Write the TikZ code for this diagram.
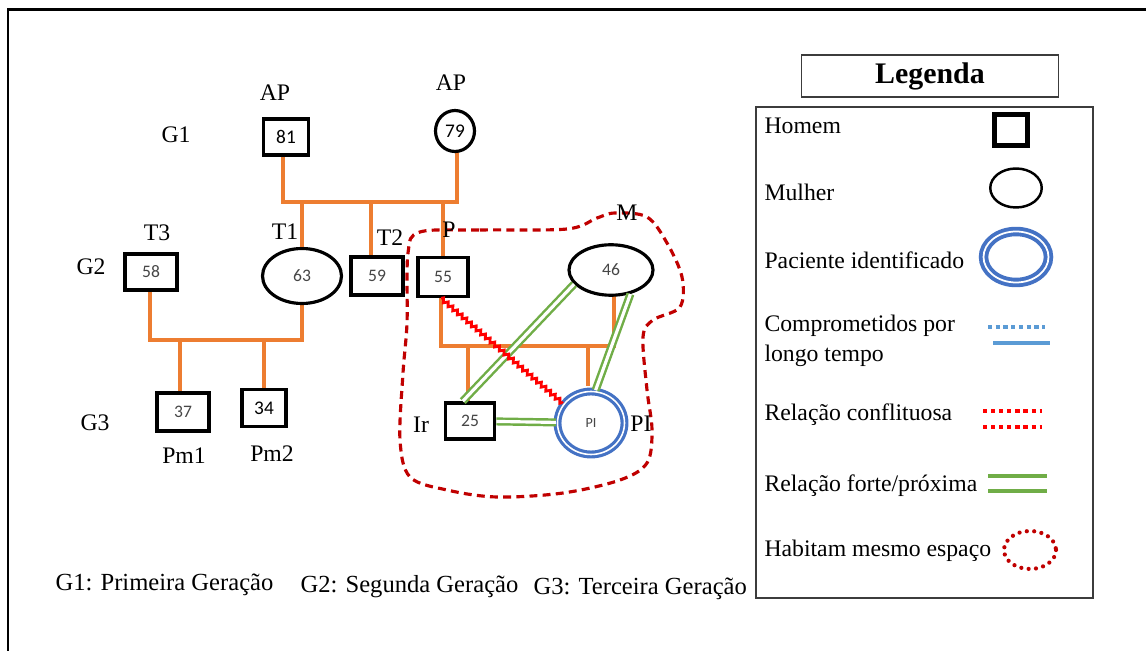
\documentclass[tikz,border=0pt]{standalone}
\usepackage{fontspec}
\setmainfont{Liberation Serif}
\newfontfamily\numfont{Carlito}
\usepackage{tikz}
\usetikzlibrary{shapes.geometric}
\usetikzlibrary{decorations.pathmorphing}
\definecolor{fam_orange}{RGB}{237,125,49}
\definecolor{conf_red}{RGB}{255,0,0}
\definecolor{home_red}{RGB}{192,0,0}
\definecolor{near_green}{RGB}{112,173,71}
\definecolor{pid_blue}{RGB}{68,114,196}
\definecolor{long_blue}{RGB}{91,155,213}
\definecolor{num_gray}{RGB}{70,70,70}
\definecolor{box_gray}{RGB}{60,60,60}

\begin{document}
\begin{tikzpicture}[x=0.02cm,y=-0.02cm,semithick]
    \tikzstyle{man}=[draw=black, rectangle, line width=2.1pt, minimum width=0.98cm, minimum height=0.72cm, inner sep=0pt, fill=white, font=\numfont\fontsize{10}{12}\selectfont, text=num_gray]
    \tikzstyle{woman}=[draw=black, ellipse, line width=1.8pt, inner sep=0pt, fill=white, font=\numfont\fontsize{10}{12}\selectfont, text=num_gray]
    \tikzstyle{pid}=[draw=pid_blue, ellipse, line width=1.8pt, double=white, double distance=0.9pt, inner sep=0pt, fill=white, font=\numfont\fontsize{8}{10}\selectfont, text=num_gray]
    \tikzstyle{lbl}=[inner sep=0pt, font=\fontsize{13.5}{16}\selectfont]
    \tikzstyle{fam}=[draw=fam_orange, line width=2pt]
    \tikzstyle{strong}=[draw=near_green, line width=1.4pt, double=white, double distance=1.8pt]
    \tikzstyle{conflict}=[draw=conf_red, line width=1.6pt, decorate, decoration={zigzag, segment length=3.5pt, amplitude=1.1pt}]
    \tikzstyle{home}=[draw=home_red, line width=1.8pt, dash pattern=on 4.5pt off 3pt]

    \useasboundingbox (0,0) rectangle (1146,651);
    \draw[line width=1.7pt] (8,651) -- (8,10) -- (1146,10);

    % same house
    \draw[home] plot[smooth cycle, tension=0.55] coordinates {(420,232) (480,230) (567,229) (597,218) (615,213) (647,217) (667,243) (682,277) (680,307) (653,320) (643,337) (647,390) (652,430) (647,463) (620,480) (563,493) (497,497) (447,490) (410,477) (400,440) (403,373) (407,323) (408,253)};

    % junctions of the family lines
    \coordinate (m1) at (371,202);
    \coordinate (m2) at (220,340);
    \coordinate (m3) at (530,346);

    \draw[fam] (283,157) |- (m1) -| (457,152);
    \draw[fam] (150,291) |- (m2) -| (302,303);
    \draw[fam] (441,298) |- (m3) -| (614,290);

    % G1
    \node[man, minimum width=0.9cm, text=black, font=\numfont\fontsize{11}{12}\selectfont] (a1) at (286,137) {81};
    \node[woman, minimum width=0.78cm, minimum height=0.82cm, text=black, font=\numfont\fontsize{11}{12}\selectfont] (a2) at (455,131) {79};
    % G2
    \node[man, minimum width=1.03cm] (t3) at (151,272) {58};
    \node[woman, minimum width=1.58cm, minimum height=1.1cm] (t1) at (302,276) {63};
    \node[man, minimum width=1.03cm, minimum height=0.76cm] (t2) at (377,276) {59};
    \node[man, minimum width=1.0cm, minimum height=0.78cm] (p) at (443,277) {55};
    \node[woman, minimum width=1.68cm, minimum height=1.01cm] (m) at (611,270) {46};
    % G3
    \node[man, minimum width=1.03cm, minimum height=0.76cm] (pm1) at (183,412) {37};
    \node[man, minimum width=0.88cm, minimum height=0.74cm, text=black, font=\numfont\fontsize{11}{12}\selectfont] (pm2) at (264,408) {34};
    \node[man] (ir) at (470,421) {25};
    \node[pid, minimum width=1.34cm, minimum height=1.26cm] (pi) at (591,423) {PI};

    \draw[fam] (t1) -- (t1 |- m1);
    \draw[fam] (371,255) -- (371,202);
    \draw[fam] (p) -- (p |- m1);
    \draw[fam] (180,391) -- (180,340);
    \draw[fam] (pm2) -- (pm2 |- m2);
    \draw[fam] (468,401) -- (468,346);
    \draw[fam] (588,386) -- (588,346);

    \path
     (m.201) edge[strong] (ir.110)
     (m.-51) edge[strong] (pi.82)
     (ir) edge[strong] (pi)
     (p.265) edge[conflict] (pi.145)
     ;

    % labels
    \node[lbl] (lap1) at (275,93) {AP};
    \node[lbl] (lap2) at (451,83) {AP};
    \node[lbl] (lg1) at (176,135) {G1};
    \node[lbl] (lg2) at (91,267) {G2};
    \node[lbl] (lg3) at (95,423) {G3};
    \node[lbl] (lt3) at (157,233) {T3};
    \node[lbl] (lt1) at (285,232) {T1};
    \node[lbl] (lt2) at (390,238) {T2};
    \node[lbl] (lp) at (449,230) {P};
    \node[lbl] (lm) at (627,213) {M};
    \node[lbl] (lir) at (421,425) {Ir};
    \node[lbl] (lpi) at (641,424) {PI};
    \node[lbl] (lpm1) at (184,456) {Pm1};
    \node[lbl] (lpm2) at (272,454) {Pm2};

    \node[lbl, anchor=west, font=\fontsize{14}{16}\selectfont] (gen1) at (55,585) {G1: Primeira Geração};
    \node[lbl, anchor=west, font=\fontsize{14}{16}\selectfont] (gen2) at (300,587) {G2: Segunda Geração};
    \node[lbl, anchor=west, font=\fontsize{14}{16}\selectfont] (gen3) at (533,589) {G3: Terceira Geração};

    % legend
    \node[draw=box_gray, line width=1pt, minimum width=5.14cm, minimum height=0.84cm, font=\bfseries\fontsize{17}{20}\selectfont] (leg) at (930,76) {Legenda};
    \draw[draw=box_gray, line width=1.2pt] (756,107) rectangle (1093,598);

    \node[lbl, anchor=west] (k1) at (764,126) {Homem};
    \node[lbl, anchor=west] (k2) at (764,192) {Mulher};
    \node[lbl, anchor=west] (k3) at (764,260) {Paciente identificado};
    \node[lbl, anchor=west, align=left, font=\fontsize{13.5}{17}\selectfont] (k4) at (764,341) {Comprometidos por\\longo tempo};
    \node[lbl, anchor=west] (k5) at (764,415) {Relação conflituosa};
    \node[lbl, anchor=west] (k6) at (764,486) {Relação forte/próxima};
    \node[lbl, anchor=west] (k7) at (764,551) {Habitam mesmo espaço};

    \node[man, line width=2.6pt, minimum width=0.66cm, minimum height=0.62cm] (s1) at (1011,130) {};
    \node[woman, line width=1.4pt, minimum width=1.03cm, minimum height=0.78cm] (s2) at (1016,188) {};
    \node[pid, line width=2.2pt, double distance=1pt, minimum width=1.3cm, minimum height=1.02cm] (s3) at (1016,257) {};
    \draw[long_blue, line width=2.2pt, dash pattern=on 2.4pt off 2pt] (988,327) -- (1045,327);
    \draw[long_blue, line width=2.6pt] (993,343) -- (1050,343);
    \draw[conf_red, line width=2.6pt, dash pattern=on 2.4pt off 2.2pt] (983,411) -- (1042,411);
    \draw[conf_red, line width=2.6pt, dash pattern=on 2.4pt off 2.2pt] (983,427) -- (1042,427);
    \draw[near_green, line width=2.6pt] (988,476) -- (1047,476);
    \draw[near_green, line width=2.6pt] (988,491) -- (1047,491);
    \draw[home_red, line width=2.4pt, line cap=round, dash pattern=on 0pt off 4.2pt] (1030,550) ellipse (26 and 19);
\end{tikzpicture}
\end{document}
